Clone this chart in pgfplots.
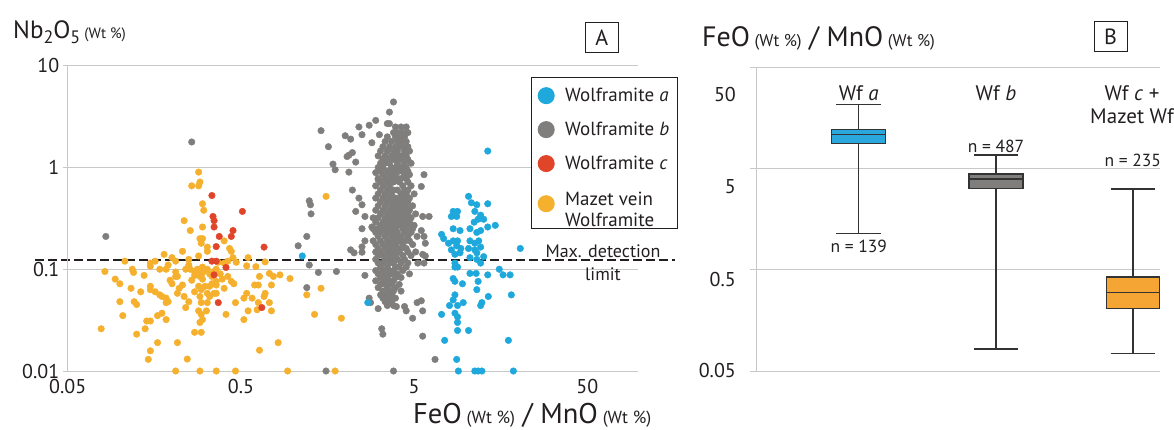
\documentclass[border=0pt]{standalone}
\usepackage{pgfplots}
\pgfplotsset{compat=1.18}
\usepgfplotslibrary{statistics}
\usepackage{fontspec}
\setmainfont{PT Sans}
\definecolor{blueA}{HTML}{1FA8DB}
\definecolor{grayA}{HTML}{807E7C}
\definecolor{redA}{HTML}{E0452A}
\definecolor{yelA}{HTML}{F5B02E}
\definecolor{boxblue}{HTML}{2AA7DC}
\definecolor{boxgray}{HTML}{807E7C}
\definecolor{boxorange}{HTML}{F4A533}
\definecolor{gridc}{HTML}{C8C8C8}
\definecolor{textc}{HTML}{231F20}
\definecolor{linec}{HTML}{333333}
\begin{document}
\begin{tikzpicture}
\begin{axis}[
 at={(67.7pt,58pt)}, anchor=south west, scale only axis,
 width=570.3pt, height=305.3pt,
 xmode=log, ymode=log, xmin=0.05, xmax=98, ymin=0.01, ymax=10,
 xtick={0.05,0.5,5,50}, xticklabels={0.05,0.5,5,50},
 ytick={0.01,0.1,1,10}, yticklabels={0.01,0.1,1,10},
 xminorticks=false, yminorticks=false,
 axis line style={draw=none},
 ymajorgrids, grid style={line width=0.8pt, color=gridc},
 tick align=outside, ytick pos=left, xtick pos=bottom,
 major tick length=5pt,
 ytick style={line width=0.8pt, color=gridc}, xtick style={draw=none},
 ticklabel style={font=\fontsize{20}{20}\selectfont, text=textc},
 /pgf/number format/assume math mode=true,
 clip=false,
 legend style={at={(1.0696,0.964)}, anchor=north east, draw=textc, line width=1pt,
   font=\fontsize{19}{22}\selectfont, text=textc, row sep=15pt, column sep=0pt,
   inner xsep=6pt, inner ysep=9pt},
 legend cell align=left,
 legend image code/.code={\draw[#1, mark size=8pt] plot coordinates {(7pt,0pt)}; \path[draw=none, fill=none] (-2pt,-8pt) rectangle (24pt,8pt);},
]
\addlegendimage{only marks, mark=*, mark options={fill=blueA, draw=blueA}}
\addlegendentry{Wolframite \textit{a}}
\addlegendimage{only marks, mark=*, mark options={fill=grayA, draw=grayA}}
\addlegendentry{Wolframite \textit{b}}
\addlegendimage{only marks, mark=*, mark options={fill=redA, draw=redA}}
\addlegendentry{Wolframite \textit{c}}
\addlegendimage{only marks, mark=*, mark options={fill=yelA, draw=yelA}}
\addlegendentry{\begin{tabular}{@{}l@{}}Mazet vein\\[-1pt]Wolframite\end{tabular}}
% Wolframite b (gray)
\addplot[forget plot, only marks, mark=*, mark size=3.3pt, mark options={fill=grayA, draw=grayA}] coordinates {
(0.083,0.21)(0.26,1.78)(1.07,0.17)(3.8,4.4)(3.6,3.5)(1.45,2.3)(3.0,2.9)(3.5,2.7)(3.6,2.7)
(2.4,2.5)(2.75,2.6)(2.5,2.1)(2.85,1.75)(3.15,2.1)(2.0,2.05)(2.15,1.9)(1.6,1.6)(2.2,1.4)
(2.1,1.32)(2.05,1.28)(2.3,1.13)(1.7,1.08)(1.75,0.95)(2.1,0.9)(3.0,0.89)(3.1,0.76)(2.2,0.6)
(2.4,0.5)(2.5,0.43)(1.24,0.47)(1.26,0.43)(1.27,0.35)(2.3,0.37)(2.6,0.33)(2.85,0.26)(2.5,0.25)
(1.2,0.21)(2.15,0.155)(2.25,0.145)(2.5,0.147)(2.6,0.19)(2.5,0.166)(1.24,0.11)(1.4,0.093)
(1.78,0.095)(2.6,0.087)(2.75,0.052)(2.8,0.047)(1.2,0.066)(1.55,0.01)(3.8,0.01)(3.25,0.026)
(3.3,0.023)(3.1,0.041)(3.95,0.043)(4.4,0.043)(4.5,0.039)(4.9,0.033)(5.2,0.047)(5.5,0.049)
(5.6,0.022)(5.6,0.33)(5.8,0.135)(5.7,0.115)(5.25,0.115)(5.7,0.85)(5.5,0.65)(6.1,0.33)
(5.5,0.24)(5.7,0.21)(5.8,0.18)(5.6,0.14)(5.6,0.039)(6.6,0.013)
(3.9,2.5)(4.2,2.5)(4.5,2.5)
(3.8,2.2)(4.0,2.2)(4.3,2.2)(4.6,2.2)
(3.5,2.0)(3.9,2.0)(4.1,2.0)(4.4,2.0)
(3.4,1.8)(3.7,1.8)(4.0,1.8)(4.2,1.8)(4.5,1.8)
(3.3,1.6)(3.6,1.6)(3.9,1.6)(4.1,1.6)(4.3,1.6)(4.6,1.6)
(3.2,1.45)(3.5,1.45)(3.8,1.45)(4.0,1.45)(4.4,1.45)(4.7,1.45)
(3.1,1.3)(3.4,1.3)(3.7,1.3)(3.9,1.3)(4.2,1.3)(4.5,1.3)
(3.3,1.2)(3.5,1.2)(3.8,1.2)(4.1,1.2)(4.3,1.2)(4.6,1.2)
(3.2,1.1)(3.4,1.1)(3.6,1.1)(4.0,1.1)(4.4,1.1)(4.8,1.1)
(3.1,1.0)(3.3,1.0)(3.7,1.0)(3.9,1.0)(4.2,1.0)(4.5,1.0)
(3.2,0.92)(3.5,0.92)(3.8,0.92)(4.1,0.92)(4.3,0.92)(4.6,0.92)
(3.3,0.85)(3.6,0.85)(3.9,0.85)(4.4,0.85)(4.7,0.85)
(3.1,0.78)(3.4,0.78)(3.7,0.78)(4.0,0.78)(4.2,0.78)(4.5,0.78)
(3.2,0.72)(3.5,0.72)(3.8,0.72)(4.1,0.72)(4.6,0.72)
(3.0,0.66)(3.3,0.66)(3.6,0.66)(4.3,0.66)(4.8,0.66)
(3.2,0.6)(3.5,0.6)(3.8,0.6)(4.0,0.6)(4.4,0.6)(4.6,0.6)
(3.1,0.55)(3.4,0.55)(3.7,0.55)(4.2,0.55)(4.5,0.55)(5.0,0.55)
(3.0,0.5)(3.3,0.5)(3.6,0.5)(3.9,0.5)(4.1,0.5)(4.4,0.5)(4.7,0.5)
(3.2,0.46)(3.5,0.46)(3.8,0.46)(4.0,0.46)(4.3,0.46)(4.6,0.46)
(3.1,0.42)(3.4,0.42)(3.7,0.42)(3.9,0.42)(4.2,0.42)(4.5,0.42)(4.9,0.42)
(3.0,0.38)(3.3,0.38)(3.6,0.38)(3.8,0.38)(4.1,0.38)(4.4,0.38)(4.7,0.38)
(3.2,0.35)(3.5,0.35)(3.7,0.35)(4.0,0.35)(4.3,0.35)(4.6,0.35)(5.1,0.35)
(2.9,0.32)(3.1,0.32)(3.4,0.32)(3.6,0.32)(3.9,0.32)(4.2,0.32)(4.5,0.32)(4.8,0.32)
(3.0,0.29)(3.3,0.29)(3.5,0.29)(3.8,0.29)(4.1,0.29)(4.4,0.29)(4.7,0.29)
(3.2,0.27)(3.4,0.27)(3.7,0.27)(4.0,0.27)(4.2,0.27)(4.6,0.27)(5.0,0.27)
(2.9,0.25)(3.1,0.25)(3.3,0.25)(3.6,0.25)(3.9,0.25)(4.3,0.25)(4.5,0.25)(4.9,0.25)
(3.0,0.23)(3.2,0.23)(3.5,0.23)(3.8,0.23)(4.0,0.23)(4.4,0.23)(4.8,0.23)
(3.1,0.21)(3.4,0.21)(3.7,0.21)(3.9,0.21)(4.2,0.21)(4.6,0.21)(5.2,0.21)
(2.9,0.19)(3.2,0.19)(3.5,0.19)(3.8,0.19)(4.1,0.19)(4.4,0.19)(4.7,0.19)
(3.0,0.175)(3.3,0.175)(3.6,0.175)(3.9,0.175)(4.3,0.175)(4.9,0.175)
(3.1,0.16)(3.4,0.16)(3.7,0.16)(4.0,0.16)(4.2,0.16)(4.5,0.16)
(3.0,0.148)(3.2,0.148)(3.5,0.148)(3.8,0.148)(4.1,0.148)(4.6,0.148)(5.1,0.148)
(3.1,0.136)(3.3,0.136)(3.6,0.136)(3.9,0.136)(4.3,0.136)(4.8,0.136)
(3.0,0.125)(3.4,0.125)(3.7,0.125)(4.0,0.125)(4.4,0.125)
(3.1,0.115)(3.3,0.115)(3.6,0.115)(3.8,0.115)(4.2,0.115)(4.6,0.115)
(3.2,0.105)(3.5,0.105)(3.9,0.105)(4.1,0.105)(4.5,0.105)
(3.0,0.097)(3.3,0.097)(3.6,0.097)(3.8,0.097)(4.3,0.097)
(3.1,0.09)(3.4,0.09)(3.7,0.09)(4.0,0.09)(4.7,0.09)
(3.2,0.083)(3.5,0.083)(3.9,0.083)(4.2,0.083)
(3.0,0.077)(3.3,0.077)(3.6,0.077)(3.8,0.077)
(3.2,0.071)(3.4,0.071)(3.7,0.071)(4.1,0.071)
(3.1,0.066)(3.5,0.066)(3.9,0.066)
(3.3,0.061)(3.6,0.061)(3.8,0.061)(4.2,0.061)
(3.2,0.056)(3.4,0.056)(3.7,0.056)
(3.3,0.052)(3.6,0.052)(3.9,0.052)
(3.4,0.048)(3.7,0.048)
(3.5,0.044)(3.8,0.044)
};
% Mazet vein (yellow)
\addplot[forget plot, only marks, mark=*, mark size=3.3pt, mark options={fill=yelA, draw=yelA}] coordinates {
(0.285,0.9)(0.29,0.72)(0.26,0.66)(0.285,0.66)(0.3,0.44)(0.305,0.38)(0.235,0.30)(0.3,0.26)
(0.255,0.24)(0.29,0.2)(0.3,0.2)(0.295,0.18)(0.32,0.165)(0.32,0.15)(0.4,0.19)(0.43,0.16)
(0.44,0.15)(0.23,0.15)(0.18,0.14)(0.285,0.135)(0.25,0.125)(0.107,0.12)(0.16,0.12)(0.15,0.115)
(0.15,0.107)(0.2,0.13)(0.21,0.12)(0.118,0.10)(0.12,0.093)(0.082,0.095)(0.17,0.1)(0.185,0.1)
(0.19,0.11)(0.21,0.094)(0.215,0.085)(0.24,0.1)(0.255,0.1)
(0.27,0.095)(0.28,0.09)(0.29,0.1)(0.3,0.092)(0.31,0.098)(0.32,0.1)(0.27,0.087)(0.29,0.085)
(0.3,0.105)(0.28,0.1)
(0.36,0.1)(0.37,0.117)(0.4,0.115)(0.42,0.12)(0.45,0.13)(0.34,0.085)(0.36,0.076)(0.33,0.068)
(0.36,0.058)(0.32,0.058)(0.138,0.087)(0.132,0.06)(0.116,0.065)(0.1,0.072)(0.094,0.08)
(0.15,0.068)(0.15,0.063)(0.16,0.06)(0.17,0.056)(0.175,0.054)(0.185,0.052)(0.19,0.048)
(0.185,0.047)(0.195,0.078)(0.2,0.072)(0.21,0.085)(0.22,0.065)(0.215,0.058)(0.23,0.07)
(0.235,0.054)(0.25,0.048)(0.24,0.042)(0.285,0.068)(0.295,0.063)(0.31,0.068)(0.29,0.054)
(0.295,0.047)(0.32,0.047)(0.285,0.039)(0.295,0.036)(0.3,0.032)(0.29,0.03)(0.27,0.024)
(0.295,0.024)(0.316,0.039)(0.33,0.054)(0.35,0.058)(0.34,0.072)(0.36,0.07)(0.44,0.076)
(0.455,0.072)(0.465,0.047)(0.52,0.052)(0.54,0.058)(0.58,0.052)(0.6,0.07)(0.63,0.07)
(0.64,0.085)(0.69,0.118)(0.73,0.091)(0.75,0.07)(0.77,0.085)(0.84,0.088)(0.96,0.081)
(0.69,0.058)(0.68,0.054)(0.73,0.047)(0.63,0.047)(0.52,0.032)(0.55,0.039)(0.62,0.04)
(0.75,0.039)(0.82,0.019)(0.64,0.016)(0.93,0.01)(0.465,0.01)(0.36,0.01)(0.29,0.01)(0.21,0.01)
(0.245,0.0131)(0.215,0.019)(0.165,0.019)(0.15,0.0158)(0.146,0.013)(0.14,0.026)(0.125,0.023)
(0.078,0.026)(0.104,0.035)(0.1,0.048)(0.121,0.048)(0.125,0.045)(0.143,0.031)(0.15,0.031)
(0.165,0.035)(0.175,0.037)(0.185,0.032)(0.41,0.036)(0.47,0.117)(0.54,0.108)(0.55,0.13)
(0.61,0.106)(1.55,0.52)(1.2,0.056)(1.45,0.065)(1.33,0.036)(1.9,0.033)(1.75,0.01)
(0.25,0.11)(0.33,0.09)(0.35,0.095)(0.38,0.09)(0.26,0.078)(0.39,0.08)(0.42,0.085)(0.3,0.08)
(0.27,0.06)(0.4,0.065)
};
% Wolframite c (red)
\addplot[forget plot, only marks, mark=*, mark size=3.3pt, mark options={fill=redA, draw=redA}] coordinates {
(0.34,0.53)(0.51,0.37)(0.345,0.33)(0.35,0.30)(0.35,0.26)(0.45,0.24)(0.44,0.21)(0.375,0.21)
(0.36,0.167)(0.68,0.165)(0.34,0.12)(0.36,0.12)(0.41,0.104)(0.35,0.088)(0.37,0.047)(0.66,0.042)
};
% Wolframite a (blue)
\addplot[forget plot, only marks, mark=*, mark size=3.3pt, mark options={fill=blueA, draw=blueA}] coordinates {
(13.3,1.45)(10.3,0.52)(10.7,0.45)(11.5,0.43)(13.3,0.44)(8.4,0.37)(8.9,0.37)(8.2,0.33)(8.8,0.33)
(11.2,0.37)(12.1,0.34)(12.6,0.31)(11.7,0.31)(11.1,0.29)(14.7,0.27)(8.4,0.25)(9.2,0.24)(7.2,0.22)
(7.4,0.2)(10.5,0.25)(11.5,0.23)(12.1,0.24)(13.3,0.26)(7.9,0.18)(8.4,0.19)(8.9,0.19)(8.8,0.17)
(9.3,0.16)(8.2,0.155)(8.6,0.14)(9.2,0.145)(10.5,0.19)(11.2,0.18)(11.8,0.19)(10.3,0.16)
(11.2,0.155)(12.1,0.165)(11.5,0.145)(10.5,0.13)(11.5,0.125)(12.6,0.133)(12.1,0.115)(20.5,0.16)
(8.6,0.115)(8.9,0.105)(8.6,0.105)(15.5,0.1)(16.3,0.088)(17.9,0.088)(13.3,0.088)(11.4,0.091)
(10.5,0.091)(11.7,0.076)(9.5,0.072)(8.4,0.081)(8.6,0.076)(11.5,0.063)(13.4,0.054)(12.3,0.047)
(12.1,0.044)(18.2,0.056)(8.6,0.056)(8.4,0.05)(8.0,0.044)(8.9,0.044)(9.6,0.047)(8.6,0.037)
(8.9,0.034)(8.9,0.03)(7.2,0.036)(8.9,0.025)(10.3,0.025)(7.5,0.02)(17.5,0.02)(8.8,0.013)
(9.0,0.01)(11.2,0.01)(11.7,0.01)(12.3,0.01)(18.7,0.01)(1.13,0.135)(2.7,0.047)
};
\draw[textc, line width=2.2pt, dash pattern=on 9pt off 4pt] (axis cs:0.0324,0.124) -- (axis cs:161,0.124);
\end{axis}
% Panel A texts
\node[anchor=base west, text=textc, font=\fontsize{25}{25}\selectfont, inner sep=0pt] at (13pt,390.7pt)
  {Nb\raisebox{-5pt}{\fontsize{18}{18}\selectfont 2}O\raisebox{-5pt}{\fontsize{18}{18}\selectfont 5}\,{\fontsize{15}{15}\selectfont(Wt \%)}};
\node[draw=textc, line width=1pt, minimum width=33pt, minimum height=30pt, inner sep=0pt,
  text=textc, font=\fontsize{22}{22}\selectfont] at (601.7pt,391.7pt) {A};
\node[anchor=base west, text=textc, font=\fontsize{28.5}{28.5}\selectfont, inner sep=0pt] at (413pt,6pt)
  {FeO\,{\fontsize{17.5}{17.5}\selectfont(Wt \%)} / MnO\,{\fontsize{17.5}{17.5}\selectfont(Wt \%)}};
\node[text=textc, font=\fontsize{18}{18}\selectfont] at (603pt,177.3pt) {Max. detection};
\node[text=textc, font=\fontsize{18}{18}\selectfont] at (603pt,155pt) {limit};
% Panel B
\begin{axis}[
 at={(756pt,58pt)}, anchor=south west, scale only axis,
 width=404pt, height=303.5pt,
 ymode=log, ymin=0.05, ymax=50, xmin=0, xmax=1,
 xtick=\empty, ytick={0.05,0.5,5,50}, yticklabels={},
 yminorticks=false,
 axis line style={draw=none},
 ymajorgrids, grid style={line width=0.8pt, color=gridc},
 tick align=outside, ytick pos=left,
 major tick length=6pt,
 ytick style={line width=0.8pt, color=gridc},
 clip=false,
 boxplot/draw direction=y,
 boxplot/whisker extend=0.11,
]
\addplot[boxplot prepared={draw position=0.254, box extend=0.134, median=10.8, upper quartile=12.2,
  lower quartile=8.83, upper whisker=21.5, lower whisker=1.14}, draw=linec, fill=boxblue, line width=1.3pt, solid]
  coordinates {};
\addplot[boxplot prepared={draw position=0.594, box extend=0.134, median=3.95, upper quartile=4.43,
  lower quartile=3.19, upper whisker=6.84, lower whisker=0.0826}, draw=linec, fill=boxgray, line width=1.3pt, solid]
  coordinates {};
\addplot[boxplot prepared={draw position=0.933, box extend=0.131, median=0.298, upper quartile=0.424,
  lower quartile=0.209, upper whisker=3.15, lower whisker=0.0748}, draw=linec, fill=boxorange, line width=1.3pt, solid]
  coordinates {};
\draw[gridc, line width=0.8pt] (rel axis cs:0,0) -- (rel axis cs:0,1);
\end{axis}
\draw[gridc, line width=0.8pt] (67.7pt,58pt) -- (67.7pt,363.3pt);
\begin{scope}[every node/.style={text=textc, font=\fontsize{20}{20}\selectfont, anchor=east, inner sep=0pt}]
\node at (736pt,334pt) {50};
\node at (736pt,242.3pt) {5};
\node at (736pt,150pt) {0.5};
\node at (736pt,59pt) {0.05};
\end{scope}
\node[anchor=base west, text=textc, font=\fontsize{28}{28}\selectfont, inner sep=0pt] at (702pt,382.3pt)
  {FeO\,{\fontsize{17}{17}\selectfont(Wt \%)} / MnO\,{\fontsize{17}{17}\selectfont(Wt \%)}};
\node[draw=textc, line width=1pt, minimum width=33pt, minimum height=30pt, inner sep=0pt,
  text=textc, font=\fontsize{22}{22}\selectfont] at (1110.5pt,392pt) {B};
\begin{scope}[every node/.style={text=textc, font=\fontsize{21}{21}\selectfont, inner sep=0pt}]
\node at (858.7pt,336pt) {Wf \textit{a}};
\node at (996pt,336pt) {Wf \textit{b}};
\node at (1132pt,336pt) {Wf \textit{c} +};
\node at (1132pt,313pt) {Mazet Wf};
\end{scope}
\begin{scope}[every node/.style={text=textc, font=\fontsize{17.5}{17.5}\selectfont, inner sep=0pt}]
\node at (858.7pt,182.3pt) {n = 139};
\node at (996pt,283pt) {n = 487};
\node at (1132.7pt,268.3pt) {n = 235};
\end{scope}
\pgfresetboundingbox
\path (0pt,0pt) rectangle (1174pt,429pt);
\end{tikzpicture}
\end{document}
